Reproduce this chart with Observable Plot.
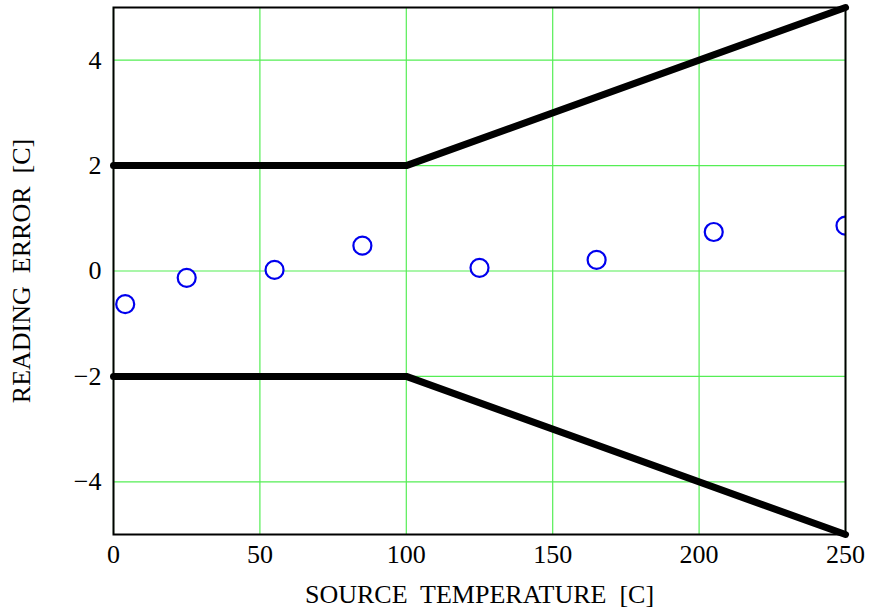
<!DOCTYPE html>
<html>
<head>
<meta charset="utf-8">
<script src="https://cdn.jsdelivr.net/npm/d3@7"></script>
<script src="https://cdn.jsdelivr.net/npm/@observablehq/plot@0.6"></script>
<style>
  html, body { margin: 0; padding: 0; background: #fff; }
</style>
</head>
<body>
<div id="chart"></div>
<script>
// Measured readings
const sourceTemp = [4, 25, 55, 85, 125, 165, 205, 250];
const readingError = [-0.63, -0.13, 0.02, 0.48, 0.06, 0.21, 0.74, 0.86];

// Tolerance envelope breakpoints
const limitTemp = [0, 100, 250];
const upperLimit = [2, 2, 5];
const lowerLimit = [-2, -2, -5];

const xTicks = [0, 50, 100, 150, 200, 250];
const yTicks = [-4, -2, 0, 2, 4];

const points = sourceTemp.map((t, i) => ({t, e: readingError[i]}));
const upper = limitTemp.map((t, i) => ({t, e: upperLimit[i]}));
const lower = limitTemp.map((t, i) => ({t, e: lowerLimit[i]}));

const gridColor = "#55ee55";

const chart = Plot.plot({
  width: 874,
  height: 611,
  marginLeft: 113,
  marginRight: 29,
  marginTop: 7,
  marginBottom: 77,
  style: {fontFamily: "'Liberation Serif', serif", fontSize: "26px", color: "#000", background: "#fff"},
  x: {domain: [0, 250], ticks: xTicks},
  y: {domain: [-5, 5], ticks: yTicks},
  marks: [
    Plot.ruleX(xTicks, {stroke: gridColor, strokeWidth: 1.2}),
    Plot.ruleY(yTicks, {stroke: gridColor, strokeWidth: 1.2}),
    Plot.line(upper, {x: "t", y: "e", stroke: "#000", strokeWidth: 7}),
    Plot.line(lower, {x: "t", y: "e", stroke: "#000", strokeWidth: 7}),
    Plot.dot(points, {x: "t", y: "e", r: 9, stroke: "#0000ee", strokeWidth: 2.2, fill: "white", clip: "frame"}),
    Plot.frame({stroke: "#000", strokeWidth: 2}),
    Plot.axisX({ticks: xTicks, tickSize: 0, tickPadding: 10, label: "SOURCE  TEMPERATURE  [C]", labelAnchor: "center", labelArrow: "none", labelOffset: 68, fontSize: 26}),
    Plot.axisY({ticks: yTicks, tickSize: 0, tickPadding: 12, label: "READING  ERROR  [C]", labelAnchor: "center", labelArrow: "none", labelOffset: 102, fontSize: 26})
  ]
});
document.getElementById("chart").appendChild(chart);
</script>
</body>
</html>
